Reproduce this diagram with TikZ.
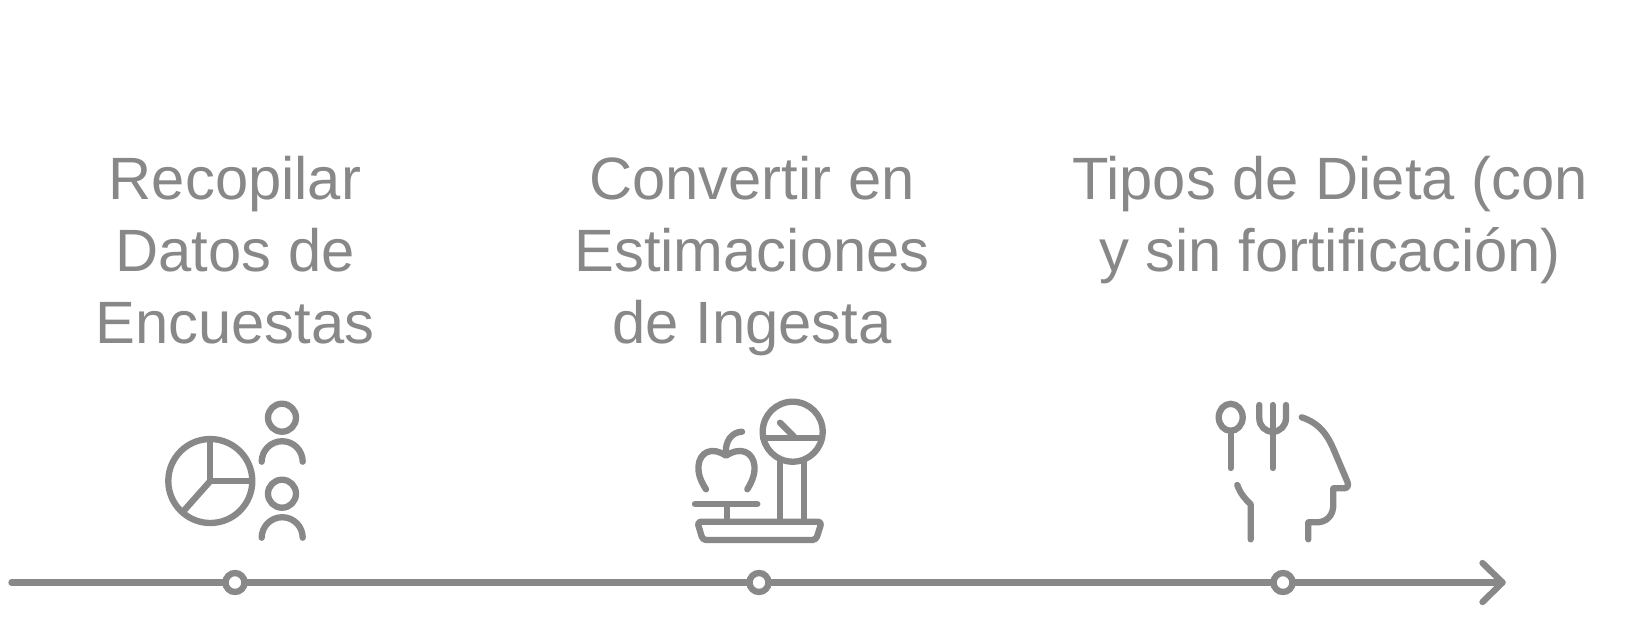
\documentclass[tikz,border=0pt]{standalone}
\usepackage{fontspec}
\usepackage{xcolor}
\setmainfont{Liberation Sans}
\definecolor{stepgray}{HTML}{888888}
\tikzset{
  iconline/.style={draw=stepgray,line width=3.6pt,line cap=round,line join=round},
  stepmark/.style={circle,draw=stepgray,line width=3.6pt,fill=white,minimum size=0.38cm,inner sep=0pt},
  steptext/.style={anchor=north,align=center,inner sep=0pt,text=stepgray,font=\fontsize{34}{40.8}\selectfont}
}
\begin{document}
\begin{tikzpicture}[x=0.02cm,y=-0.02cm]
\useasboundingbox (0,0) rectangle (1637,637);
\coordinate (start) at (11.5,582.5);
\coordinate (tip) at (1502.5,582.5);
\coordinate (armup) at (1482.5,563);
\coordinate (armdown) at (1482.5,602);
\draw[iconline] (start) -- (tip);
\draw[iconline] (armup) -- (tip) -- (armdown);
\foreach \nm/\pos in {markdata/235,markintake/759,markdiet/1283}
  {\node [stepmark] (\nm) at (\pos,582.5) {};}
\node [steptext] (textdata) at (235,156) {Recopilar\\Datos de\\Encuestas};
\node [steptext] (textintake) at (752,156) {Convertir en\\Estimaciones\\de Ingesta};
\node [steptext] (textdiet) at (1330,156) {Tipos de Dieta (con\\y sin fortificación)};
% encuestas
\draw[iconline] (210.3,481) circle (42);
\draw[iconline] (210.3,439) -- (210.3,481) -- (252,481);
\draw[iconline] (210.3,481) -- (183,511.7);
\foreach \py in {0,76}
{
  \draw[iconline] (282,417.7+\py) circle (14);
  \draw[iconline] (261.7,461.7+\py) arc[start angle=180,end angle=360,x radius=20.5,y radius=20.5];
}
% balanza
\draw[iconline] (792.7,431.7) circle (30);
\draw[iconline] (763,437.7) -- (822,437.7);
\draw[iconline] (780,422.7) -- (794,436.7);
\draw[iconline] (780,461) -- (780,521.7);
\draw[iconline] (804.3,461) -- (804.3,521.7);
\draw[iconline,rounded corners=2pt] (697.3,521.7) -- (821.7,521.7) -- (816,540) -- (702.7,540) -- cycle;
\draw[iconline] (695,504) -- (757.3,504);
\draw[iconline] (726.7,504) -- (726.7,521.7);
\draw[iconline] (706,489.3) .. controls (700,480) and (698,473) .. (698.5,466)
  .. controls (699.5,452) and (712,446) .. (726,455.7)
  .. controls (741,446) and (753,452) .. (754.5,466)
  .. controls (755,473) and (753,480) .. (747.3,489.3);
\draw[iconline] (726,453) .. controls (725,441) and (732,432) .. (742,431.7);
% dieta
\draw[iconline] (1230.7,417.3) ellipse (12 and 13.5);
\draw[iconline] (1230.7,430.8) -- (1230.7,468);
\draw[iconline] (1259.3,405) -- (1259.3,418) .. controls (1259.3,426) and (1265,431.7) .. (1272.7,431.7)
  .. controls (1280,431.7) and (1286,426) .. (1286,418) -- (1286,405);
\draw[iconline] (1272.7,405) -- (1272.7,468);
\draw[iconline] (1301.7,417.3) .. controls (1322,424) and (1329,438) .. (1336,455)
  -- (1347.5,482) .. controls (1349,486) and (1347,488.3) .. (1344,488.3)
  -- (1333.3,488.3) -- (1333.3,505) .. controls (1333.3,515) and (1327,522.3) .. (1316.7,522.3)
  -- (1308.3,522.3) -- (1308.3,539.3);
\draw[iconline] (1237.3,485) .. controls (1240,493) and (1245,499) .. (1250.7,504.3) -- (1250.7,539.3);
\end{tikzpicture}
\end{document}
